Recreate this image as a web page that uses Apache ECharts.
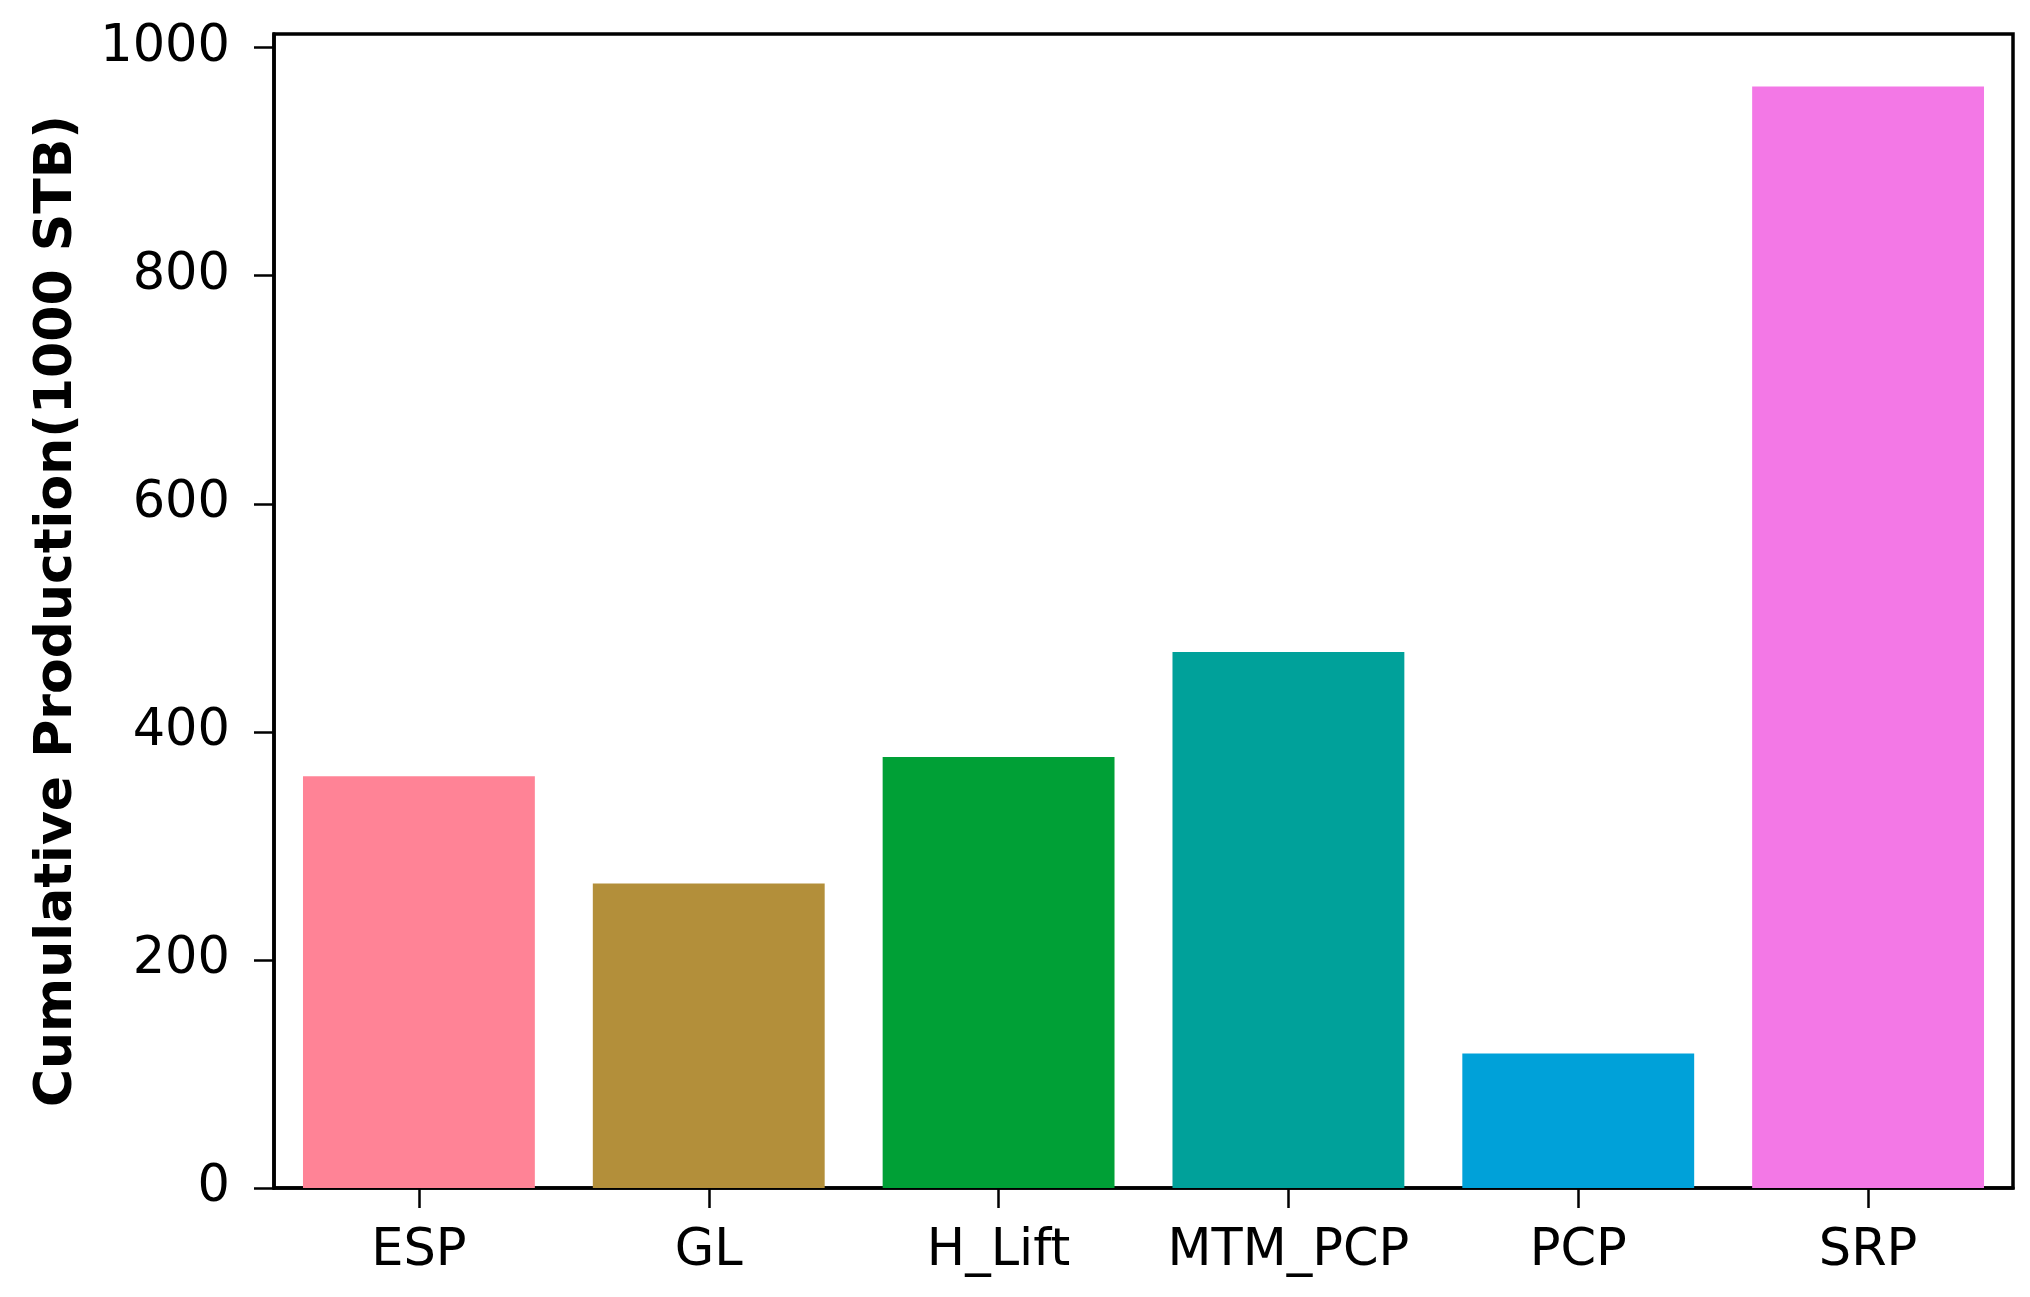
<!DOCTYPE html>
<html>
<head>
<meta charset="utf-8">
<script src="https://cdn.jsdelivr.net/npm/echarts@6/dist/echarts.min.js"></script>
<style>
html,body{margin:0;padding:0;background:#fff;}
#chart{width:2030px;height:1297px;}
</style>
</head>
<body>
<div id="chart"></div>
<script>
const categories = ["ESP", "GL", "H_Lift", "MTM_PCP", "PCP", "SRP"];
const values = [361, 267, 378, 470, 118, 966];
const barColors = ["#FF8396", "#B38F3A", "#00A036", "#00A19A", "#00A1D9", "#F378E6"];
const yTicks = [0, 200, 400, 600, 800, 1000];
const yTitle = "Cumulative Production(1000 STB)";

const font = "DejaVu Sans";
const chart = echarts.init(document.getElementById('chart'));
chart.setOption({
  animation: false,
  backgroundColor: '#fff',
  grid: {left: 274, right: 17, top: 34, bottom: 109, show: true, borderColor: '#000', borderWidth: 3.5, backgroundColor: 'transparent'},
  xAxis: {
    type: 'category',
    data: categories,
    axisLine: {show: true, lineStyle: {color: '#000', width: 3.5}},
    axisTick: {show: true, alignWithLabel: true, interval: 0, length: 20, lineStyle: {color: '#000', width: 2.5}},
    axisLabel: {color: '#000', fontFamily: font, fontSize: 51, margin: 38, interval: 0},
    splitLine: {show: false}
  },
  yAxis: {
    type: 'value',
    min: 0,
    max: 1012,
    name: yTitle,
    nameLocation: 'middle',
    nameGap: 191,
    nameTextStyle: {color: '#000', fontFamily: font, fontSize: 52, fontWeight: 'bold'},
    axisLine: {show: true, lineStyle: {color: '#000', width: 3.5}},
    axisTick: {show: true, length: 20, customValues: yTicks, lineStyle: {color: '#000', width: 2.5}},
    axisLabel: {color: '#000', fontFamily: font, fontSize: 51, margin: 44, customValues: yTicks,
      formatter: function (v) { return String(v); }},
    splitLine: {show: false}
  },
  series: [{
    type: 'bar',
    data: values.map((v, i) => ({value: v, itemStyle: {color: barColors[i]}})),
    barWidth: '80%'
  }]
});
</script>
</body>
</html>
